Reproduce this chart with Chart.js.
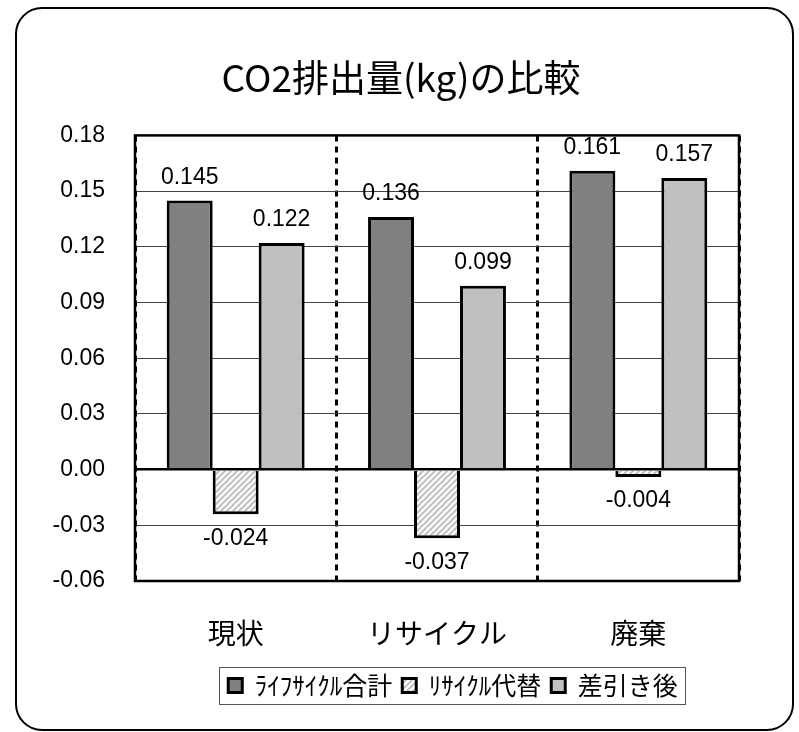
<!DOCTYPE html>
<html>
<head>
<meta charset="utf-8">
<script src="https://cdn.jsdelivr.net/npm/chart.js@4/dist/chart.umd.min.js"></script>
<style>
  html, body { margin: 0; padding: 0; background: #fff; }
  canvas { display: block; }
</style>
</head>
<body>
<canvas id="chart" width="799" height="732"></canvas>
<script>
const categories = ["現状", "リサイクル", "廃棄"];
const seriesNames = ["ﾗｲﾌｻｲｸﾙ合計", "ﾘｻｲｸﾙ代替", "差引き後"];
const lifecycleTotal = [0.145, 0.136, 0.161];
const recycleOffset = [-0.024, -0.037, -0.004];
const netValues = [0.122, 0.099, 0.157];

const Y_MIN = -0.06;
const Y_MAX = 0.18;
const Y_STEP = 0.03;

const NUM_FONT = "'Liberation Sans', Arial, sans-serif";
const JP_FONT = "'Noto Sans CJK JP', sans-serif";

// diagonal hatch for the recycle series
function makeHatch() {
  const c = document.createElement("canvas");
  c.width = 6; c.height = 6;
  const g = c.getContext("2d");
  g.fillStyle = "#fff";
  g.fillRect(0, 0, 6, 6);
  g.strokeStyle = "#c0c0c0";
  g.lineWidth = 2;
  g.beginPath();
  g.moveTo(0, 6); g.lineTo(6, 0);
  g.moveTo(-3, 3); g.lineTo(3, -3);
  g.moveTo(3, 9); g.lineTo(9, 3);
  g.stroke();
  return g.createPattern(c, "repeat");
}

// rounded outer frame + white background
const framePlugin = {
  id: "frame",
  beforeDraw(chart) {
    const c = chart.ctx;
    c.save();
    c.fillStyle = "#fff";
    c.fillRect(0, 0, chart.width, chart.height);
    c.beginPath();
    c.roundRect(16, 8, 777, 722, 26);
    c.lineWidth = 2;
    c.strokeStyle = "#000";
    c.stroke();
    c.restore();
  }
};

// nudge title and legend to where the reference has them
const placePlugin = {
  id: "place",
  afterLayout(chart) {
    const t = chart.titleBlock;
    if (t) {
      const dx = 401 - (t.left + t.right) / 2;
      t.left += dx; t.right += dx;
    }
    const lg = chart.legend;
    if (lg) {
      const dx = 453 - (lg.left + lg.right) / 2;
      lg.left += dx; lg.right += dx;
    }
  },
  afterDraw(chart) {
    const lg = chart.legend;
    if (!lg || !lg.legendHitBoxes.length) return;
    const hb = lg.legendHitBoxes;
    let l = Infinity, r = -Infinity, t = Infinity, b = -Infinity;
    hb.forEach(h => {
      l = Math.min(l, h.left); r = Math.max(r, h.left + h.width);
      t = Math.min(t, h.top); b = Math.max(b, h.top + h.height);
    });
    const c = chart.ctx;
    c.save();
    c.strokeStyle = "#555";
    c.lineWidth = 1;
    c.strokeRect(Math.round(l - 9) + 0.5, Math.round(t - 6) + 0.5, Math.round(r - l + 16), Math.round(b - t + 12));
    c.restore();
  }
};

// plot border and value labels
const labelPlugin = {
  id: "valueLabels",
  afterDatasetsDraw(chart) {
    const c = chart.ctx;
    const a = chart.chartArea;
    c.save();
    c.strokeStyle = "#000";
    c.lineWidth = 2.5;
    c.strokeRect(a.left, a.top, a.right - a.left, a.bottom - a.top);

    c.fillStyle = "#000";
    c.font = "23px " + NUM_FONT;
    c.textAlign = "center";
    c.textBaseline = "middle";
    chart.data.datasets.forEach((ds, i) => {
      const meta = chart.getDatasetMeta(i);
      meta.data.forEach((bar, j) => {
        const v = ds.data[j];
        const y = v >= 0 ? bar.y - 23 : bar.y + 24;
        c.fillText(v.toFixed(3), bar.x, y);
      });
    });
    c.restore();
  }
};

const hatch = makeHatch();

const ctx = document.getElementById("chart").getContext("2d");
const chart = new Chart(ctx, {
  type: "bar",
  data: {
    labels: categories,
    datasets: [
      { label: seriesNames[0], data: lifecycleTotal, backgroundColor: "#808080", borderColor: "#000", borderWidth: 3 },
      { label: seriesNames[1], data: recycleOffset, backgroundColor: hatch, borderColor: "#000", borderWidth: 3 },
      { label: seriesNames[2], data: netValues, backgroundColor: "#c0c0c0", borderColor: "#000", borderWidth: 3 }
    ]
  },
  options: {
    responsive: false,
    animation: false,
    layout: { padding: { left: 20, right: 60, top: 0, bottom: 24 } },
    datasets: { bar: { categoryPercentage: 0.685, barPercentage: 1.0 } },
    plugins: {
      title: {
        display: true,
        text: "CO2排出量(kg)の比較",
        color: "#000",
        font: { family: JP_FONT, size: 37, weight: "normal", lineHeight: 1.2 },
        padding: { top: 56, bottom: 35 }
      },
      legend: {
        position: "bottom",
        labels: {
          color: "#000",
          boxWidth: 14,
          boxHeight: 14,
          padding: 10,
          font: { family: JP_FONT, size: 25 }
        }
      },
      tooltip: { enabled: false }
    },
    scales: {
      x: {
        grid: { color: "#000", lineWidth: 3, drawTicks: false, offset: true },
        border: { display: false, dash: [6, 5] },
        ticks: { color: "#000", padding: 36, font: { family: JP_FONT, size: 28 } },
        afterFit(scale) { scale.height = 82; }
      },
      y: {
        min: Y_MIN,
        max: Y_MAX,
        grid: {
          drawTicks: false,
          color: c => (c.tick && c.tick.value === 0 ? "#000" : "#444"),
          lineWidth: c => (c.tick && c.tick.value === 0 ? 2.5 : 1)
        },
        border: { display: false },
        ticks: {
          stepSize: Y_STEP,
          color: "#000",
          padding: 30,
          font: { family: NUM_FONT, size: 23 },
          callback: v => Number(v).toFixed(2)
        },
        afterFit(scale) { scale.width = 115; }
      }
    }
  },
  plugins: [framePlugin, placePlugin, labelPlugin]
});
</script>
</body>
</html>
